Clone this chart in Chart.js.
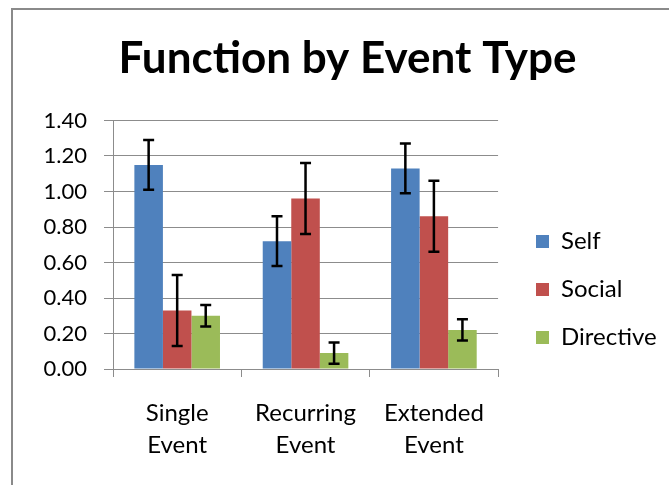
<!DOCTYPE html>
<html><head><meta charset="utf-8">
<script src="https://cdn.jsdelivr.net/npm/chart.js@4"></script>
<style>html,body{margin:0;padding:0;background:#fff;overflow:hidden}#wrap{width:669px;height:485px;position:relative}</style>
</head><body><div id="wrap"><canvas id="c" width="669" height="485"></canvas></div>
<script>
// ---- data ----
const TITLE = 'Function by Event Type';
const CATEGORIES = [['Single', 'Event'], ['Recurring', 'Event'], ['Extended', 'Event']];
const SERIES_NAMES = ['Self', 'Social', 'Directive'];
const SELF = [1.15, 0.72, 1.13];
const SOCIAL = [0.33, 0.96, 0.86];
const DIRECTIVE = [0.30, 0.09, 0.22];
const SELF_ERR = [0.14, 0.14, 0.14];
const SOCIAL_ERR = [0.20, 0.20, 0.20];
const DIRECTIVE_ERR = [0.06, 0.06, 0.06];
const Y_MIN = 0, Y_MAX = 1.4, Y_STEP = 0.2;

// ---- styles / layout ----
const COLORS = ['#4F81BD', '#C0504D', '#9BBB59'];
const W = 669, H = 485;
const PLOT_LEFT = 113, PLOT_RIGHT = 494, PLOT_TOP = 120.5, PLOT_BOTTOM = 369;
const TITLE_CENTER = 347.5;
const FONT = 'Lato';
const TITLE_SIZE = 44, TICK_SIZE = 22, CAT_SIZE = 24;
const LEG_FONT = 24, LEG_PAD = 24, LEG_BOX = 13, LEG_BOX_X = 536, LEG_FIRST_Y = 241.5;
const GRID = '#8c8c8c';

const mctx = document.createElement('canvas').getContext('2d');
mctx.font = LEG_FONT + 'px ' + FONT;
const tw = Math.max(...SERIES_NAMES.map(s => mctx.measureText(s).width));
const legendWidth = LEG_PAD + LEG_BOX + LEG_FONT / 2 + tw + 10;
const padR = W - PLOT_RIGHT - legendWidth;
const padL = 2 * TITLE_CENTER - W + padR;

Chart.defaults.font.family = FONT;
Chart.defaults.color = '#000';

const frame = {
  id: 'frame',
  beforeDraw(chart) {
    const ctx = chart.ctx;
    ctx.save();
    ctx.strokeStyle = '#8a8a8a';
    ctx.lineWidth = 2;
    ctx.beginPath();
    ctx.moveTo(12, H + 5);
    ctx.lineTo(12, 9);
    ctx.lineTo(W + 5, 9);
    ctx.stroke();
    ctx.restore();
  }
};

const errorBars = {
  id: 'errorBars',
  afterDatasetsDraw(chart) {
    const ctx = chart.ctx, y = chart.scales.y;
    ctx.save();
    ctx.strokeStyle = '#000';
    ctx.lineWidth = 2.5;
    chart.data.datasets.forEach((ds, i) => {
      const meta = chart.getDatasetMeta(i);
      meta.data.forEach((bar, j) => {
        const v = ds.data[j], e = ds.errors[j];
        const yt = y.getPixelForValue(v + e), yb = y.getPixelForValue(v - e);
        const x = bar.x, hw = 5.5;
        ctx.beginPath();
        ctx.moveTo(x, yt); ctx.lineTo(x, yb);
        ctx.moveTo(x - hw, yt); ctx.lineTo(x + hw, yt);
        ctx.moveTo(x - hw, yb); ctx.lineTo(x + hw, yb);
        ctx.stroke();
      });
    });
    ctx.restore();
  }
};

const layoutFix = {
  id: 'layoutFix',
  afterLayout(chart) {
    const L = chart.legend;
    const w = L.right - L.left, h = L.bottom - L.top;
    L.left = LEG_BOX_X - LEG_PAD; L.right = L.left + w;
    L.top = LEG_FIRST_Y - LEG_PAD - LEG_FONT / 2; L.bottom = L.top + h;
    // let y tick labels extend left of the padded area (avoid clipping)
    chart.scales.y.left = 0;
  }
};

const seriesVals = [SELF, SOCIAL, DIRECTIVE];
const seriesErr = [SELF_ERR, SOCIAL_ERR, DIRECTIVE_ERR];

const TITLE_MID = 59.3;
const titleLH = TITLE_SIZE * 1.2;
const titlePadTop = TITLE_MID - titleLH / 2;

new Chart(document.getElementById('c'), {
  type: 'bar',
  data: {
    labels: CATEGORIES,
    datasets: SERIES_NAMES.map((n, i) => ({
      label: n,
      data: seriesVals[i],
      errors: seriesErr[i],
      backgroundColor: COLORS[i],
      borderWidth: 0,
      categoryPercentage: 0.667,
      barPercentage: 1.0
    }))
  },
  options: {
    responsive: false,
    animation: false,
    devicePixelRatio: 1,
    layout: { padding: { left: padL, right: padR, top: 0, bottom: 0 } },
    plugins: {
      title: {
        display: true,
        text: TITLE,
        color: '#000',
        font: { size: TITLE_SIZE, weight: 'bold', family: FONT, lineHeight: 1.2 },
        padding: { top: titlePadTop, bottom: PLOT_TOP - titlePadTop - titleLH }
      },
      legend: {
        position: 'right',
        align: 'start',
        labels: {
          boxWidth: LEG_BOX,
          boxHeight: LEG_BOX,
          padding: LEG_PAD,
          color: '#000',
          font: { size: LEG_FONT, family: FONT }
        }
      },
      tooltip: { enabled: false }
    },
    scales: {
      x: {
        offset: true,
        grid: { display: true, drawOnChartArea: false, drawTicks: true, tickLength: 8, color: GRID, offset: true },
        border: { display: true, color: GRID, width: 1 },
        ticks: { color: '#000', padding: 20, font: { size: CAT_SIZE, family: FONT, lineHeight: 1.34 }, maxRotation: 0 },
        afterFit(s) { s.height = H - PLOT_BOTTOM; }
      },
      y: {
        min: Y_MIN, max: Y_MAX,
        grid: { color: GRID, tickLength: 9, drawTicks: true },
        border: { display: true, color: GRID, width: 1 },
        ticks: { stepSize: Y_STEP, color: '#000', padding: 17, font: { size: TICK_SIZE, family: FONT }, callback: v => Number(v).toFixed(2) },
        afterFit(s) { s.width = PLOT_LEFT - padL; }
      }
    }
  },
  plugins: [frame, errorBars, layoutFix]
});
</script>
</body></html>
